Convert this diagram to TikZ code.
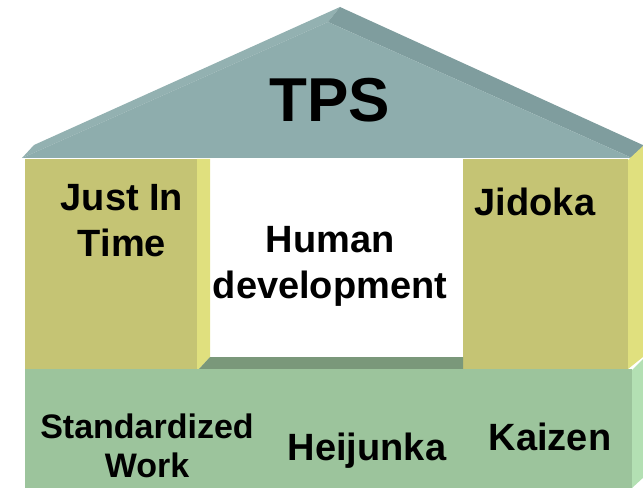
\documentclass[tikz,border=0pt]{standalone}
\usepackage{fontspec}
\setmainfont{Liberation Sans}
\usetikzlibrary{positioning}
\definecolor{roofface}{HTML}{8EADAD}
\definecolor{roofedge}{HTML}{7F9D9E}
\definecolor{roofleft}{HTML}{93B1B1}
\definecolor{pillarface}{HTML}{C5C474}
\definecolor{pillarside}{HTML}{E0E07E}
\definecolor{baseface}{HTML}{9CC49C}
\definecolor{basetop}{HTML}{7A987A}
\definecolor{baseside}{HTML}{B3E0B3}

\begin{document}
\begin{tikzpicture}[x=0.5pt, y=-0.5pt,
    label/.style={font=\bfseries\fontsize{19}{23}\selectfont, align=center, inner sep=0pt},
    small label/.style={font=\bfseries\fontsize{17}{19.5}\selectfont, align=center, inner sep=0pt}]
  \useasboundingbox (0,0) rectangle (643,492);
  % Roof
  \fill[roofleft] (22,158) -- (34,145) -- (340,7) -- (328,22) -- cycle;
  \fill[roofedge] (328,22) -- (340,7) -- (645,146) -- (632,158) -- cycle;
  \fill[roofface] (22,158) -- (328,22) -- (632,158) -- cycle;
  % Pillars
  \fill[pillarside] (197,159) -- (210,159) -- (210,357) -- (199,369) -- (197,369) -- cycle;
  \fill[pillarface] (25,159) rectangle (197,369);
  \fill[pillarside] (628,160) -- (643,146) -- (643,357) -- (628,369) -- cycle;
  \fill[pillarface] (463,159) rectangle (628,369);
  % Base
  \fill[basetop] (199,369) -- (210,357) -- (463,357) -- (463,369) -- cycle;
  \fill[baseside] (632,370) -- (645,357) -- (645,476) -- (632,488) -- cycle;
  \fill[baseface] (25,369) rectangle (632,488);
  % Labels
  \node[font=\bfseries\fontsize{31}{36}\selectfont, anchor=base, inner sep=0pt] (tps) at (330,122) {TPS};
  \node[label] (jit) at (122,221) {Just In\\Time};
  \node[label] (human) at (330,266) {Human\\development};
  \node[label, anchor=base] (jidoka) at (535,215) {Jidoka};
  \node[small label] (stdwork) at (147,446) {Standardized\\Work};
  \node[label, anchor=base] (heijunka) at (367,460) {Heijunka};
  \node[label, anchor=base] (kaizen) at (550,450) {Kaizen};
\end{tikzpicture}
\end{document}
